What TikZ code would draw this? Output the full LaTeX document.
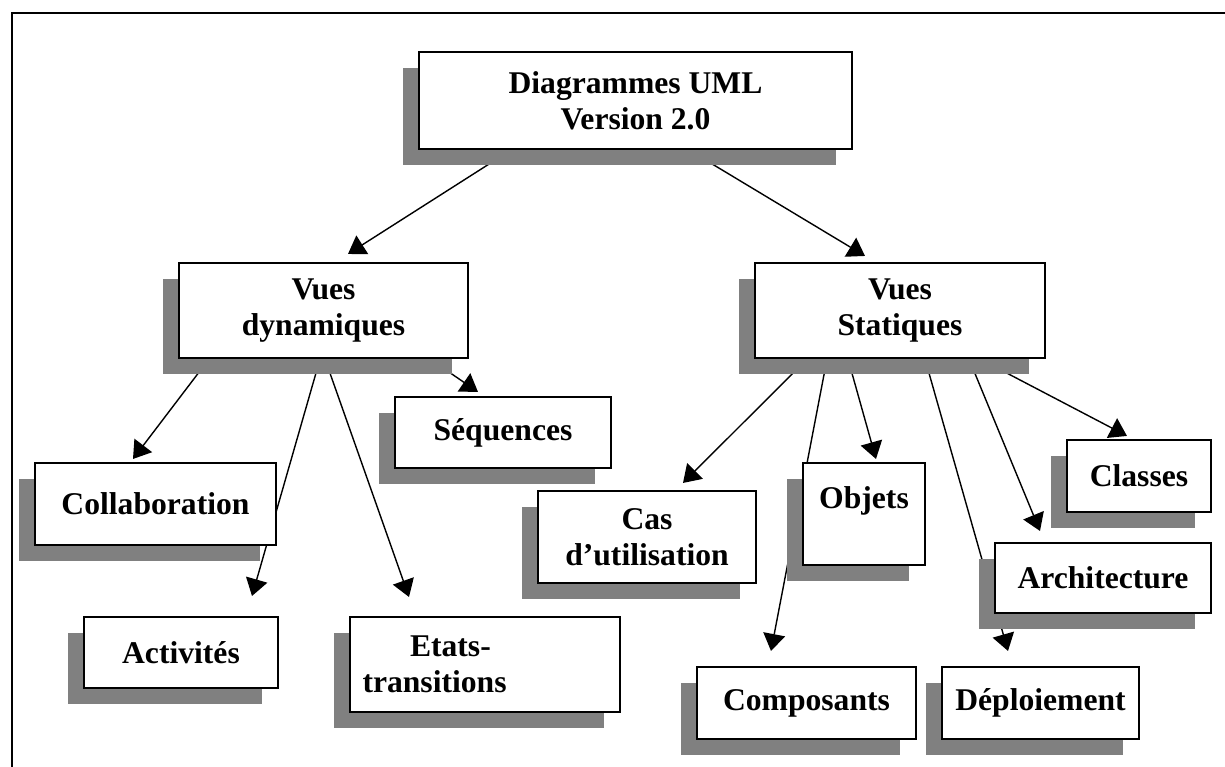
\documentclass[tikz,border=0pt]{standalone}
\usepackage{fontspec}
\setmainfont{Liberation Serif}
\usepackage{tikz}
\usetikzlibrary{arrows.meta,calc,shadows,backgrounds}
\tikzset{>/.tip={Triangle[length=0.34cm,width=0.44cm]},
  boite/.style={draw, line width=1.2pt, fill=white, align=center,
    font=\bfseries\fontsize{18}{20.5}\selectfont,
    drop shadow={shadow xshift=-0.32cm, shadow yshift=-0.32cm, fill=black!50, opacity=1}},
  fleche/.style={->, line width=0.8pt}}

\begin{document}
\begin{tikzpicture}[x=0.02cm, y=-0.02cm]
\useasboundingbox (0,0) rectangle (1225,767);
\draw[line width=1.2pt] (1225,13) -- (12,13) -- (12,767);

\node[boite, minimum width=8.66cm, minimum height=1.94cm] (uml) at (635.5,100.5) {Diagrammes UML\\Version 2.0};
\node[boite, minimum width=5.78cm, minimum height=1.9cm] (dyn) at (323.5,310.5) {Vues\\dynamiques};
\node[boite, minimum width=5.8cm, minimum height=1.9cm] (stat) at (900,310.5) {Vues\\Statiques};

\node[boite, minimum width=4.32cm, minimum height=1.42cm] (seq) at (503,432.5) {Séquences};
\node[boite, minimum width=4.82cm, minimum height=1.64cm] (collab) at (155.5,504) {Collaboration};
\node[boite, minimum width=3.88cm, minimum height=1.42cm] (activ) at (181,652.5) {Activités};
\node[boite, minimum width=5.4cm, minimum height=1.9cm, text width=4.9cm, align=left] (etats) at (485,664.5) {\hspace*{0.95cm}Etats-\\transitions};

\node[boite, minimum width=4.36cm, minimum height=1.84cm] (cas) at (647,537) {Cas\\d’utilisation};
\node[boite, minimum width=2.44cm, inner ysep=0pt, text height=0.9cm, text depth=1.14cm] (objets) at (864,514) {Objets};
\node[boite, minimum width=4.38cm, minimum height=1.44cm] (compos) at (806.5,703) {Composants};
\node[boite, minimum width=3.94cm, minimum height=1.44cm] (deploi) at (1040.5,703) {Déploiement};
\node[boite, minimum width=4.32cm, minimum height=1.4cm] (archi) at (1103,578) {Architecture};
\node[boite, minimum width=2.88cm, minimum height=1.44cm] (classes) at (1139,476) {Classes};

\begin{pgfonlayer}{background}
\foreach \dep/\dx/\arr/\tx/\ty in {uml/-124.5/dyn/24.5/-8, uml/53.5/stat/-35/-6,
  dyn/-114.5/collab/-22.5/-3, dyn/-3.5/activ/71/-20, dyn/1.5/etats/-76/-19, dyn/106.5/seq/-25/-4,
  stat/-93/cas/36/-7, stat/-73/compos/-35.5/-15, stat/-52/objets/12/-3,
  stat/25/deploi/-32.5/-15, stat/69/archi/-63/-11, stat/80/classes/-12/-3}
{
  \draw[fleche] ($(\dep.south)+(\dx,0)$) -- ($(\arr.north)+(\tx,\ty)$);
}
\end{pgfonlayer}
\end{tikzpicture}
\end{document}
